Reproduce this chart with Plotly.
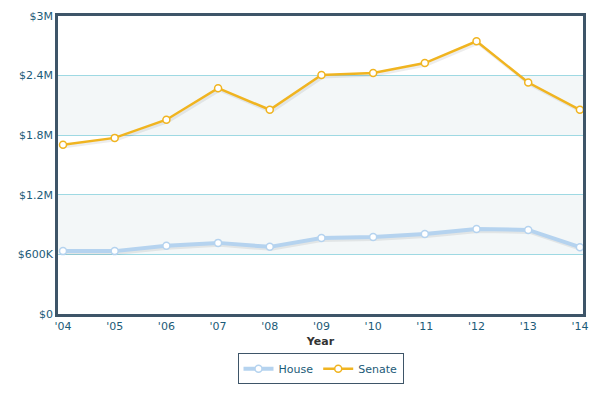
import plotly.graph_objects as go

years = ["'04", "'05", "'06", "'07", "'08", "'09", "'10", "'11", "'12", "'13", "'14"]
house = [633000, 633000, 686000, 716000, 676000, 766000, 776000, 806000, 856000, 846000, 673000]
senate = [1703000, 1773000, 1956000, 2273000, 2056000, 2406000, 2426000, 2526000, 2746000, 2330000, 2056000]
ytick_vals = [0, 600000, 1200000, 1800000, 2400000, 3000000]
ytick_text = ["$0", "$600K", "$1.2M", "$1.8M", "$2.4M", "$3M"]

xs = list(range(len(years)))
font_fam = "Verdana, DejaVu Sans, sans-serif"
fig = go.Figure()

# soft shadows
for vals, w in [(house, 4), (senate, 3)]:
    fig.add_trace(go.Scatter(x=[x + 0.03 for x in xs], y=[v - 20000 for v in vals], mode="lines",
                             line=dict(color="rgba(0,0,0,0.07)", width=w),
                             showlegend=False, hoverinfo="skip"))

fig.add_trace(go.Scatter(x=xs, y=house, name="House", mode="lines+markers",
                         line=dict(color="#b5d3ef", width=4),
                         marker=dict(symbol="circle", size=7, color="white",
                                     line=dict(color="#b5d3ef", width=1.5))))
fig.add_trace(go.Scatter(x=xs, y=senate, name="Senate", mode="lines+markers",
                         line=dict(color="#f0b420", width=2.5),
                         marker=dict(symbol="circle", size=7, color="white",
                                     line=dict(color="#f0b420", width=1.5))))

shapes = []
for y0, y1 in [(600000, 1200000), (1800000, 2400000)]:
    shapes.append(dict(type="rect", xref="paper", yref="y", x0=0, x1=1, y0=y0, y1=y1,
                       fillcolor="#f3f7f8", line=dict(width=0), layer="below"))

fig.update_layout(
    width=606, height=396,
    margin=dict(l=50, r=31, t=8, b=90),
    paper_bgcolor="white", plot_bgcolor="white",
    font=dict(family=font_fam, size=11, color="#1c5b78"),
    shapes=shapes,
    showlegend=True,
    legend=dict(orientation="h", x=0.5, xanchor="center", y=-0.132, yanchor="top",
                bgcolor="white", bordercolor="#3e5568", borderwidth=1,
                font=dict(size=11, color="#1c5b78")),
    xaxis=dict(tickmode="array", tickvals=xs, ticktext=years, range=[-0.097, 10.06],
               showgrid=False, zeroline=False, showline=True, mirror=True,
               linecolor="#3e5568", linewidth=2.5, ticks="", automargin=False,
               tickfont=dict(size=11, color="#1c5b78"),
               title=dict(text="<b>Year</b>", font=dict(size=11, color="#333333"), standoff=6)),
    yaxis=dict(tickmode="array", tickvals=ytick_vals, ticktext=ytick_text, range=[0, 3000000],
               showgrid=True, gridcolor="#9ed9e3", gridwidth=1, zeroline=False, automargin=False,
               showline=True, mirror=True, linecolor="#3e5568", linewidth=2.5, ticks="",
               tickfont=dict(size=11, color="#1c5b78")),
)

fig.write_html("out.html")
